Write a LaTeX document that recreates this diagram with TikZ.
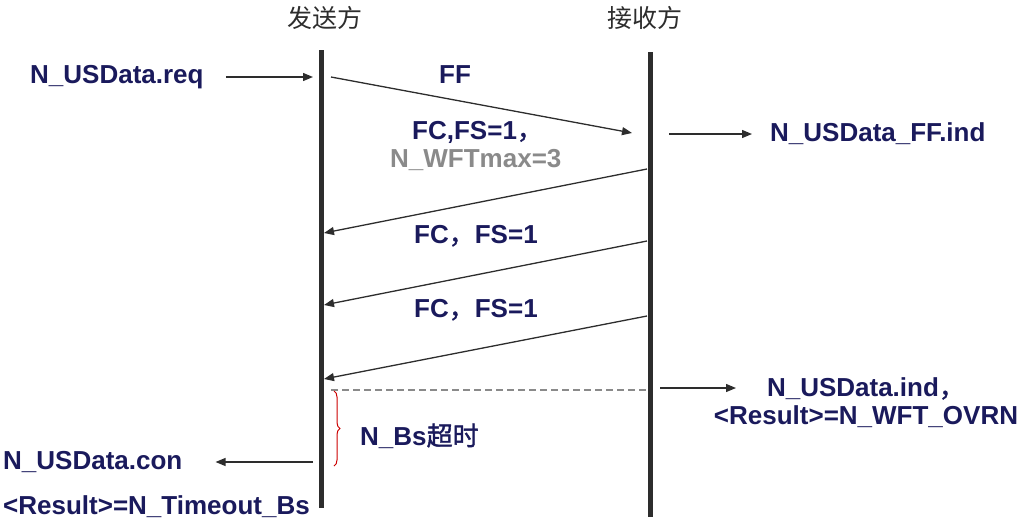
\documentclass[tikz,border=0pt]{standalone}
\usepackage{fontspec}
\setmainfont{Liberation Sans}
\newfontfamily\cjk[AutoFakeBold=1.5]{Noto Sans CJK SC}
\usetikzlibrary{positioning,arrows.meta,decorations.pathreplacing}

\definecolor{navy}{RGB}{26,26,92}
\definecolor{wftgray}{RGB}{138,138,138}
\definecolor{lineclr}{RGB}{45,45,45}

\begin{document}
\begin{tikzpicture}[x=1pt,y=-1pt]
            \tikzstyle{lbl}=[text=navy,font=\bfseries\fontsize{26}{30}\selectfont,inner sep=0pt]
            \tikzstyle{head}=[text=lineclr,font=\cjk\fontsize{25}{28}\selectfont,inner sep=0pt]
            \tikzstyle{life}=[draw=lineclr,line width=5pt]
            \tikzstyle{msg}=[draw=lineclr,line width=1.3pt,-{Triangle[length=10pt,width=8pt]}]
            \useasboundingbox (0,0) rectangle (1031,528);

            \node[head] (snd) at (325,18) {发送方};
            \node[head] (rcv) at (645,18) {接收方};
            \coordinate (S0) at (321,50);
            \coordinate (S1) at (321,508);
            \coordinate (R0) at (650,52);
            \coordinate (R1) at (650,517);
            \draw[life] (S0) -- (S1);
            \draw[life] (R0) -- (R1);

            \node[lbl,anchor=west] (req) at (30,77) {N\_USData.req};
            \coordinate (reqend) at (313,77);
            \draw[msg] ([xshift=22pt]req.east) -- (reqend);

            \coordinate (sFF) at (331,77);
            \coordinate (rFF) at (632,133);
            \draw[msg] (sFF) -- (rFF);
            \node[lbl] (ff) at (455,75) {FF};
            \node[lbl,anchor=west] (fcff) at (412,132) {FC,FS=1{\cjk ，}};
            \node[lbl,anchor=west,text=wftgray] (wft) at (390,160) {N\_WFTmax=3};

            \coordinate (ffout) at (669,134);
            \node[lbl,anchor=west] (ffind) at (770,134) {N\_USData\_FF.ind};
            \draw[msg] (ffout) -- ([xshift=-18pt]ffind.west);

            \coordinate (rFC1) at (647,169);
            \coordinate (sFC1) at (324,233);
            \draw[msg] (rFC1) -- (sFC1);
            \node[lbl,anchor=west] (fc1) at (414,236) {FC{\cjk ，}FS=1};

            \coordinate (rFC2) at (647,241);
            \coordinate (sFC2) at (324,305);
            \draw[msg] (rFC2) -- (sFC2);
            \node[lbl,anchor=west] (fc2) at (414,310) {FC{\cjk ，}FS=1};

            \coordinate (rFC3) at (647,316);
            \coordinate (sFC3) at (324,379);
            \draw[msg] (rFC3) -- (sFC3);

            \coordinate (sTo) at (331,390);
            \coordinate (rTo) at (647,390);
            \draw[wftgray,line width=1.2pt,dash pattern=on 7pt off 4pt] (sTo) -- (rTo);

            \coordinate (indout) at (660,388);
            \node[lbl,align=center] (ind) at (866,403) {N\_USData.ind{\cjk ，}\\[-2pt]\textless Result\textgreater=N\_WFT\_OVRN};
            \draw[msg] (indout) -- (736,388);

            \coordinate (bs0) at (334,391);
            \coordinate (bs1) at (334,466);
            \draw[red!80!black,line width=1pt,decorate,decoration={brace,amplitude=6pt}] (bs0) -- (bs1);
            \node[lbl,anchor=west] (bs) at (360,436) {N\_Bs{\cjk 超时}};

            \node[lbl,anchor=west] (con) at (3,462) {N\_USData.con};
            \coordinate (conout) at (313,462);
            \draw[msg] (conout) -- ([xshift=33pt]con.east);
            \node[lbl,anchor=west] (res) at (3,507) {\textless Result\textgreater=N\_Timeout\_Bs};
        \end{tikzpicture}
\end{document}
